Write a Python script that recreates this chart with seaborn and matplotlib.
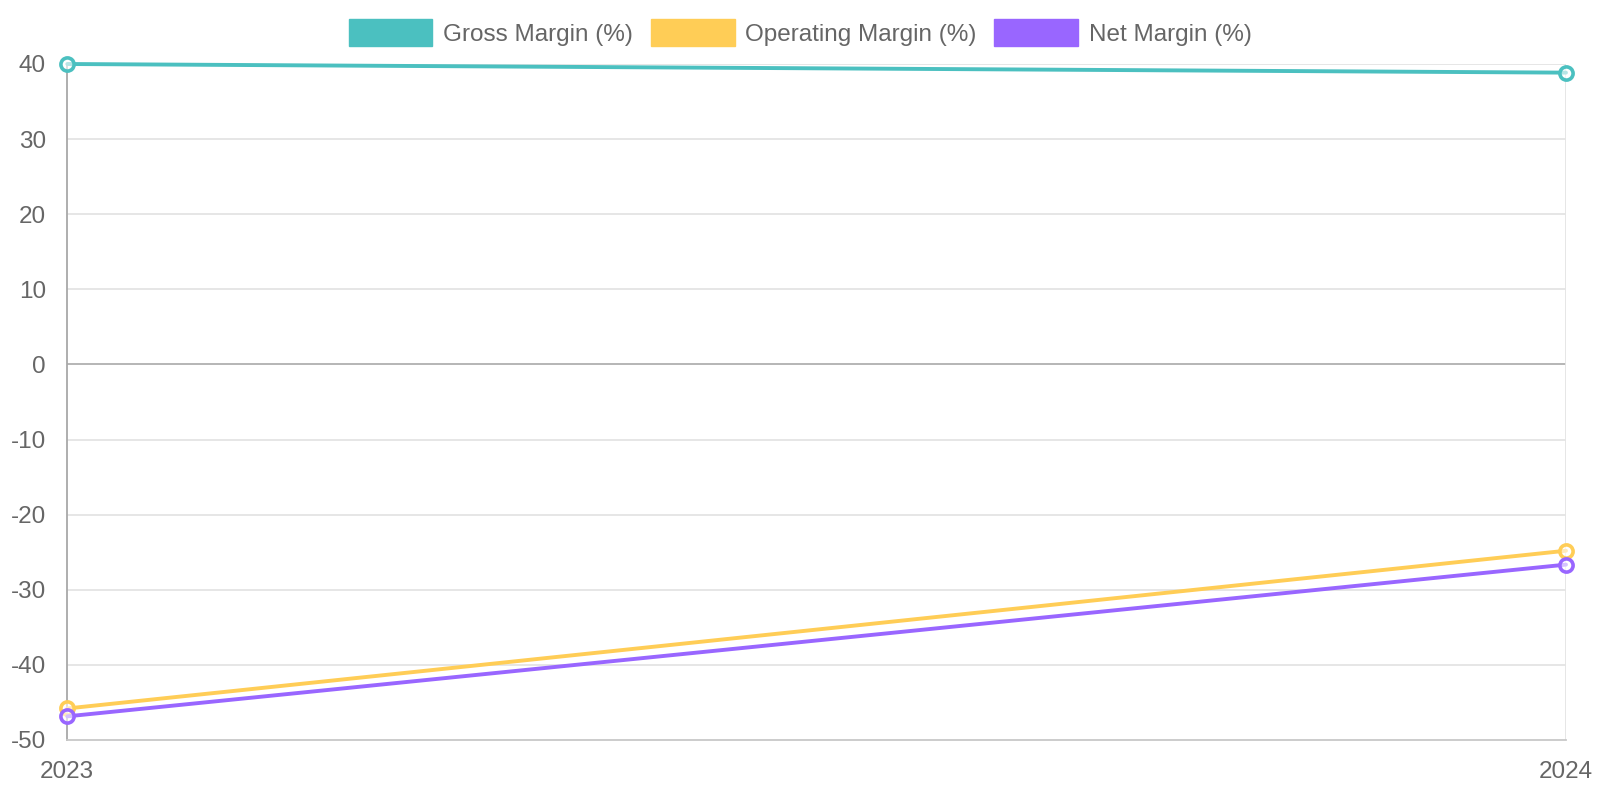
import pandas as pd
import matplotlib.pyplot as plt
import seaborn as sns
from matplotlib.patches import Patch

# Data
years = [2023, 2024]
gross_margin = [40.0, 38.85]
operating_margin = [-45.8, -24.8]
net_margin = [-46.85, -26.65]
labels = ["Gross Margin (%)", "Operating Margin (%)", "Net Margin (%)"]
colors = ["#4BC0C0", "#FFCD56", "#9966FF"]
yticks = [40, 30, 20, 10, 0, -10, -20, -30, -40, -50]

sns.set_style("white")
plt.rcParams['font.family'] = ['Liberation Sans', 'DejaVu Sans']
plt.rcParams['axes.unicode_minus'] = False

df = pd.DataFrame({
    "Year": years * 3,
    "Value": gross_margin + operating_margin + net_margin,
    "Series": [labels[0]] * 2 + [labels[1]] * 2 + [labels[2]] * 2,
})

fig = plt.figure(figsize=(16, 8), dpi=100)
ax = fig.add_axes([67.3 / 1600, 60 / 800, (1566 - 67.3) / 1600, (740 - 64) / 800])

grid_c = "#e4e4e4"
for y in yticks:
    if y == 0:
        ax.axhline(y, color="#b0b0b0", lw=1.3, zorder=1)
    elif y != -50:
        ax.axhline(y, color=grid_c, lw=1.3, zorder=1)
ax.axvline(2024, color=grid_c, lw=1.3, zorder=1)

sns.lineplot(data=df, x="Year", y="Value", hue="Series", palette=colors,
             hue_order=labels, ax=ax, linewidth=2.8, marker="o", markersize=9.5,
             markeredgewidth=2.6, markerfacecolor=(1, 1, 1, 0.6),
             legend=False, zorder=3, clip_on=False)
for line, c in zip(ax.lines[-3:], colors):
    line.set_markeredgecolor(c)
    line.set_clip_on(False)

ax.set_xlim(2023, 2024)
ax.set_ylim(-50, 40)
ax.set_xticks(years)
ax.set_xticklabels([str(y) for y in years])
ax.set_yticks(yticks)
ax.set_xlabel("")
ax.set_ylabel("")

for s in ["top", "right"]:
    ax.spines[s].set_visible(False)
ax.spines["left"].set_color("#a8a8a8")
ax.spines["left"].set_linewidth(1.3)
ax.spines["bottom"].set_color("#c8c8c8")
ax.spines["bottom"].set_linewidth(1.3)

ax.tick_params(axis="both", length=13.5, width=1.0, color=grid_c,
               labelsize=17.5, labelcolor="#666666")
ax.tick_params(axis="y", pad=2)
ax.tick_params(axis="x", pad=1.5)
ax.xaxis.get_major_ticks()[0].tick1line.set_color("#a8a8a8")
ax.yaxis.get_major_ticks()[yticks.index(0)].tick1line.set_color("#b0b0b0")

handles = [Patch(facecolor=c, edgecolor=c, label=l) for c, l in zip(colors, labels)]
fig.legend(handles=handles, loc="center", bbox_to_anchor=(0.5, 1 - 32.5 / 800),
           ncol=3, frameon=False, fontsize=17.5, handlelength=3.45,
           handleheight=1.3, handletextpad=0.42, columnspacing=0.75,
           labelcolor="#666666")

fig.savefig("out.png", dpi=100)
